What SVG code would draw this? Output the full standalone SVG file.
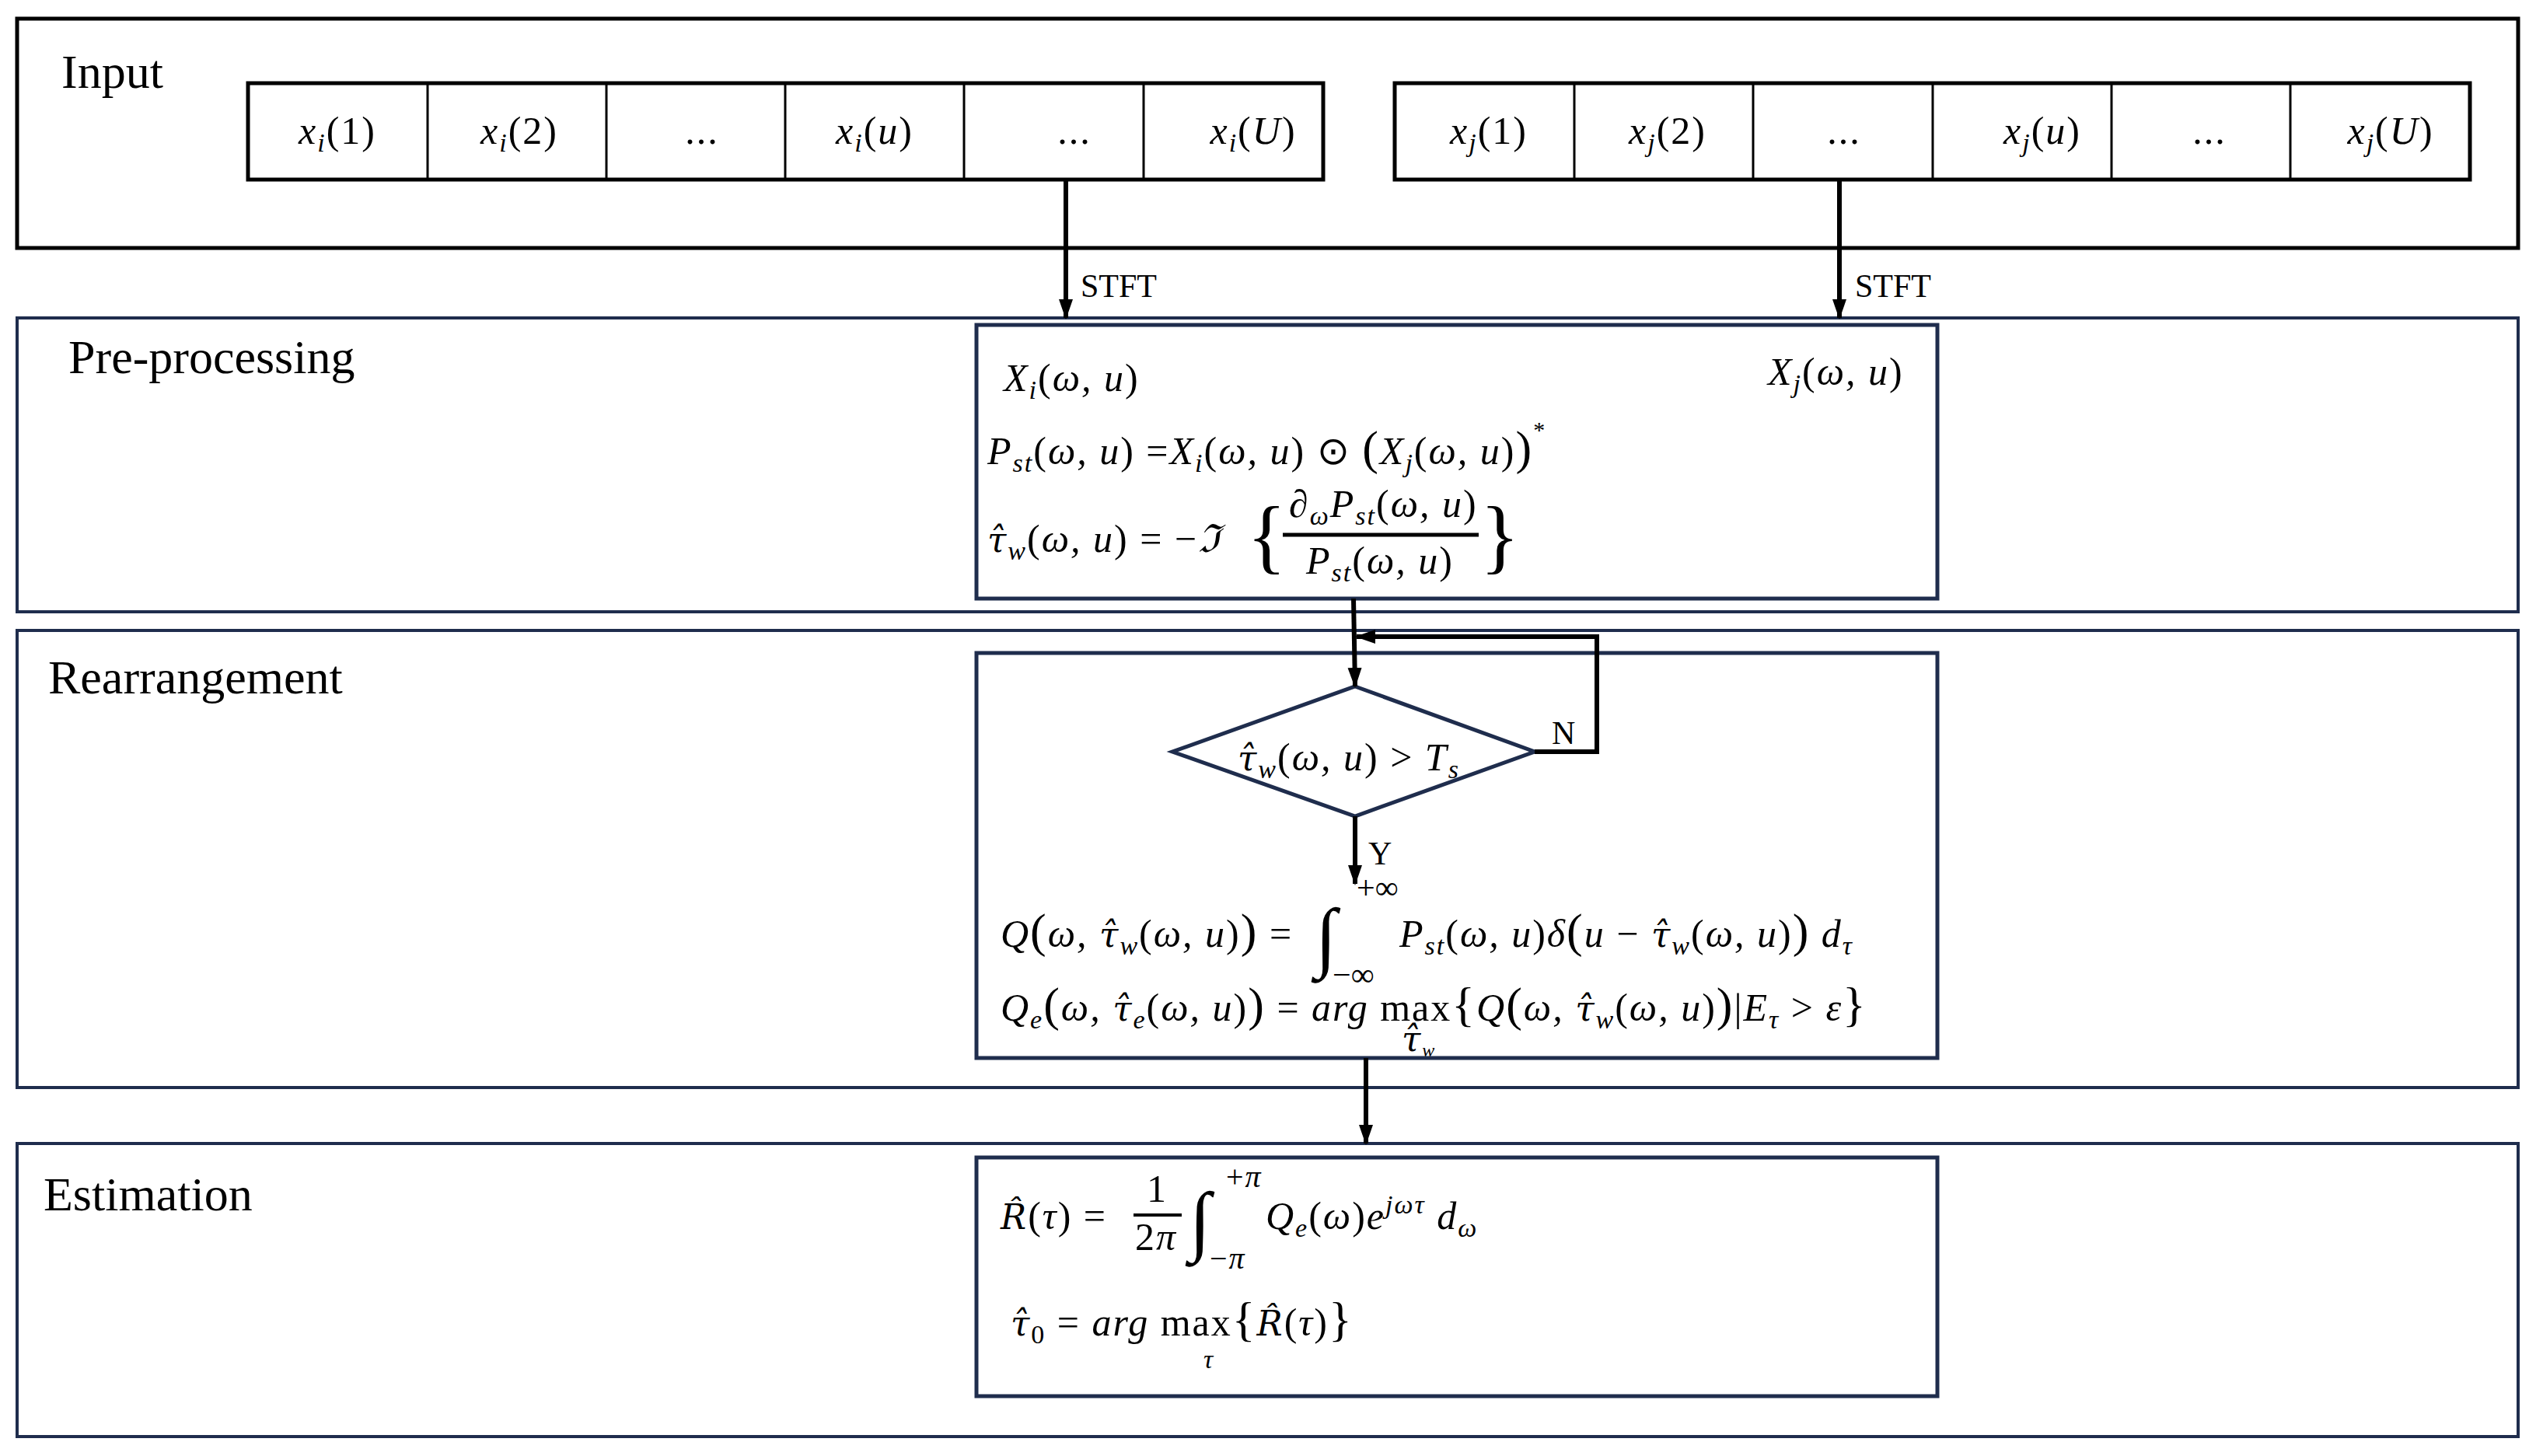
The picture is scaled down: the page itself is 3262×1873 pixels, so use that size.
<svg xmlns="http://www.w3.org/2000/svg" width="3262" height="1873" viewBox="0 0 3262 1873">
<style>
.stage{fill:none;stroke:#000;stroke-width:5}
.stage2{fill:none;stroke:#1f2d4d;stroke-width:4}
.inner{fill:#fff;stroke:#1f2d4d;stroke-width:5}
.cellrow{fill:#fff;stroke:#000;stroke-width:5}
.div{stroke:#000;stroke-width:3}
.lbl{font-family:"Liberation Serif",serif;font-size:62px;fill:#000}
.m{font-family:"Liberation Serif",serif;font-style:italic;font-size:50px;letter-spacing:2px;fill:#000}
.r{font-style:normal}
.h{font-family:"DejaVu Serif",serif;font-size:44px}
.sm{font-family:"Liberation Serif",serif;font-size:42px;fill:#000}
.conn{stroke:#000;stroke-width:6;fill:none}
</style>
<defs>
<marker id="a" markerWidth="26" markerHeight="26" refX="24" refY="13" orient="auto" markerUnits="userSpaceOnUse"><path d="M0,4 L26,13 L0,22 z" fill="#000"/></marker>
</defs>

<g id="input">
<rect class="stage" x="22" y="24" width="3217" height="295"/>
<text class="lbl" x="79" y="113">Input</text>
<rect class="cellrow" x="319" y="107" width="1383" height="124"/>
<line class="div" x1="550" y1="107" x2="550" y2="231"/><line class="div" x1="780" y1="107" x2="780" y2="231"/><line class="div" x1="1010" y1="107" x2="1010" y2="231"/><line class="div" x1="1240" y1="107" x2="1240" y2="231"/><line class="div" x1="1471" y1="107" x2="1471" y2="231"/>
<text class="m" text-anchor="middle" y="185"><tspan x="434">x<tspan font-size="34" dy="10">i</tspan><tspan class="r" dy="-10">(1)</tspan></tspan></text>
<text class="m" text-anchor="middle" y="185"><tspan x="668">x<tspan font-size="34" dy="10">i</tspan><tspan class="r" dy="-10">(2)</tspan></tspan></text>
<text class="m r" text-anchor="middle" x="903" y="185">...</text>
<text class="m" text-anchor="middle" y="185"><tspan x="1125">x<tspan font-size="34" dy="10">i</tspan><tspan dy="-10"><tspan class="r">(</tspan>u<tspan class="r">)</tspan></tspan></tspan></text>
<text class="m r" text-anchor="middle" x="1382" y="185">...</text>
<text class="m" text-anchor="middle" y="185"><tspan x="1612">x<tspan font-size="34" dy="10">i</tspan><tspan dy="-10"><tspan class="r">(</tspan>U<tspan class="r">)</tspan></tspan></tspan></text>
<rect class="cellrow" x="1794" y="107" width="1383" height="124"/>
<line class="div" x1="2025" y1="107" x2="2025" y2="231"/><line class="div" x1="2255" y1="107" x2="2255" y2="231"/><line class="div" x1="2486" y1="107" x2="2486" y2="231"/><line class="div" x1="2716" y1="107" x2="2716" y2="231"/><line class="div" x1="2946" y1="107" x2="2946" y2="231"/>
<text class="m" text-anchor="middle" y="185"><tspan x="1915">x<tspan font-size="34" dy="10">j</tspan><tspan class="r" dy="-10">(1)</tspan></tspan></text>
<text class="m" text-anchor="middle" y="185"><tspan x="2145">x<tspan font-size="34" dy="10">j</tspan><tspan class="r" dy="-10">(2)</tspan></tspan></text>
<text class="m r" text-anchor="middle" x="2372" y="185">...</text>
<text class="m" text-anchor="middle" y="185"><tspan x="2627">x<tspan font-size="34" dy="10">j</tspan><tspan dy="-10"><tspan class="r">(</tspan>u<tspan class="r">)</tspan></tspan></tspan></text>
<text class="m r" text-anchor="middle" x="2842" y="185">...</text>
<text class="m" text-anchor="middle" y="185"><tspan x="3075">x<tspan font-size="34" dy="10">j</tspan><tspan dy="-10"><tspan class="r">(</tspan>U<tspan class="r">)</tspan></tspan></tspan></text>
</g>

<g id="preprocessing">
<rect class="stage2" x="22" y="409" width="3217" height="378"/>
<text class="lbl" x="88" y="480">Pre-processing</text>
<rect class="inner" x="1256" y="418" width="1236" height="352"/>
<text class="m" x="1291" y="503">X<tspan font-size="34" dy="10">i</tspan><tspan dy="-10"><tspan class="r">(</tspan>ω, u<tspan class="r">)</tspan></tspan></text>
<text class="m" x="2274" y="495">X<tspan font-size="34" dy="10">j</tspan><tspan dy="-10"><tspan class="r">(</tspan>ω, u<tspan class="r">)</tspan></tspan></text>
<text class="m" x="1270" y="597">P<tspan font-size="34" dy="10">st</tspan><tspan dy="-10"><tspan class="r">(</tspan>ω, u<tspan class="r">) =</tspan>X</tspan><tspan font-size="34" dy="10">i</tspan><tspan dy="-10"><tspan class="r">(</tspan>ω, u<tspan class="r">) ⊙ </tspan><tspan class="r" font-size="62">(</tspan>X</tspan><tspan font-size="34" dy="10">j</tspan><tspan dy="-10"><tspan class="r">(</tspan>ω, u<tspan class="r">)</tspan><tspan class="r" font-size="62">)</tspan></tspan><tspan class="r" font-size="30" dy="-34">*</tspan></text>
<text class="m" x="1270" y="710"><tspan class="h">τ̂</tspan><tspan font-size="34" dy="10">w</tspan><tspan dy="-10"><tspan class="r">(</tspan>ω, u<tspan class="r">) = −</tspan>ℑ</tspan></text>
<text class="m r" x="1604" y="725" style="font-size:105px">{</text>
<text class="m" x="1658" y="665">∂<tspan font-size="34" dy="10">ω</tspan><tspan dy="-10">P</tspan><tspan font-size="34" dy="10">st</tspan><tspan dy="-10"><tspan class="r">(</tspan>ω, u<tspan class="r">)</tspan></tspan></text>
<line x1="1650" y1="688" x2="1902" y2="688" stroke="#000" stroke-width="5"/>
<text class="m" x="1680" y="738">P<tspan font-size="34" dy="10">st</tspan><tspan dy="-10"><tspan class="r">(</tspan>ω, u<tspan class="r">)</tspan></tspan></text>
<text class="m r" x="1904" y="725" style="font-size:105px">}</text>
</g>

<g id="rearrangement">
<rect class="stage2" x="22" y="811" width="3217" height="588"/>
<text class="lbl" x="62" y="892">Rearrangement</text>
<rect class="inner" x="1256" y="840" width="1236" height="521"/>
</g>

<g id="decision">
<polygon points="1743,883 1974,967 1743,1050 1508,967" fill="#fff" stroke="#1f2d4d" stroke-width="5"/>
<text class="m" x="1592" y="991"><tspan class="h">τ̂</tspan><tspan font-size="34" dy="10">w</tspan><tspan dy="-10"><tspan class="r">(</tspan>ω, u<tspan class="r">) &gt; </tspan>T</tspan><tspan font-size="34" dy="10">s</tspan></text>
</g>

<g id="rearr-formulas">
<text class="m" x="1287" y="1218">Q<tspan class="r" font-size="62">(</tspan>ω, <tspan class="h">τ̂</tspan><tspan font-size="34" dy="10">w</tspan><tspan dy="-10"><tspan class="r">(</tspan>ω, u<tspan class="r">)</tspan><tspan class="r" font-size="62">)</tspan><tspan class="r"> = </tspan></tspan></text>
<text class="m r" x="1692" y="1238" style="font-size:100px">∫</text>
<text class="sm" x="1745" y="1156">+∞</text>
<text class="sm" x="1714" y="1268">−∞</text>
<text class="m" x="1800" y="1218">P<tspan font-size="34" dy="10">st</tspan><tspan dy="-10"><tspan class="r">(</tspan>ω, u<tspan class="r">)</tspan>δ<tspan class="r" font-size="62">(</tspan>u <tspan class="r">−</tspan> <tspan class="h">τ̂</tspan></tspan><tspan font-size="34" dy="10">w</tspan><tspan dy="-10"><tspan class="r">(</tspan>ω, u<tspan class="r">)</tspan><tspan class="r" font-size="62">)</tspan> d</tspan><tspan font-size="34" dy="10">τ</tspan></text>
<text class="m" x="1287" y="1313">Q<tspan font-size="34" dy="10">e</tspan><tspan dy="-10"><tspan class="r" font-size="62">(</tspan>ω, <tspan class="h">τ̂</tspan></tspan><tspan font-size="34" dy="10">e</tspan><tspan dy="-10"><tspan class="r">(</tspan>ω, u<tspan class="r">)</tspan><tspan class="r" font-size="62">)</tspan><tspan class="r"> = </tspan>arg <tspan class="r">max</tspan><tspan class="r" font-size="62">{</tspan>Q<tspan class="r" font-size="62">(</tspan>ω, <tspan class="h">τ̂</tspan></tspan><tspan font-size="34" dy="10">w</tspan><tspan dy="-10"><tspan class="r">(</tspan>ω, u<tspan class="r">)</tspan><tspan class="r" font-size="62">)</tspan><tspan class="r">|</tspan>E</tspan><tspan font-size="34" dy="10">τ</tspan><tspan dy="-10"><tspan class="r"> &gt; </tspan>ε<tspan class="r" font-size="62">}</tspan></tspan></text>
<text class="m" x="1803" y="1352" style="font-size:32px"><tspan class="h" font-size="30">τ̂</tspan><tspan font-size="24" dy="7">w</tspan></text>
</g>

<g id="estimation">
<rect class="stage2" x="22" y="1471" width="3217" height="377"/>
<text class="lbl" x="56" y="1557">Estimation</text>
<rect class="inner" x="1256" y="1489" width="1236" height="307"/>
<text class="m" x="1287" y="1581"><tspan class="h">R̂</tspan><tspan class="r">(</tspan>τ<tspan class="r">) =</tspan></text>
<text class="m r" x="1475" y="1546">1</text>
<line x1="1458" y1="1563" x2="1520" y2="1563" stroke="#000" stroke-width="4"/>
<text class="m" x="1460" y="1608"><tspan class="r">2</tspan>π</text>
<text class="m r" x="1530" y="1603" style="font-size:100px">∫</text>
<text class="m" x="1577" y="1527" style="font-size:40px"><tspan class="r">+</tspan>π</text>
<text class="m" x="1556" y="1632" style="font-size:40px"><tspan class="r">−</tspan>π</text>
<text class="m" x="1628" y="1581">Q<tspan font-size="34" dy="10">e</tspan><tspan dy="-10"><tspan class="r">(</tspan>ω<tspan class="r">)</tspan>e</tspan><tspan font-size="34" dy="-20">jωτ</tspan><tspan dy="20"> d</tspan><tspan font-size="34" dy="10">ω</tspan></text>
<text class="m" x="1300" y="1718"><tspan class="h">τ̂</tspan><tspan class="r" font-size="34" dy="10">0</tspan><tspan dy="-10"><tspan class="r"> = </tspan>arg <tspan class="r">max</tspan><tspan class="r" font-size="62">{</tspan><tspan class="h">R̂</tspan><tspan class="r">(</tspan>τ<tspan class="r">)</tspan><tspan class="r" font-size="62">}</tspan></tspan></text>
<text class="m" x="1548" y="1760" style="font-size:34px">τ</text>
</g>

<g id="connectors">
<line class="conn" x1="1371" y1="231" x2="1371" y2="409" marker-end="url(#a)"/>
<text class="sm" x="1390" y="382">STFT</text>
<line class="conn" x1="2366" y1="231" x2="2366" y2="409" marker-end="url(#a)"/>
<text class="sm" x="2386" y="382">STFT</text>
<line class="conn" x1="1741" y1="770" x2="1743" y2="883" marker-end="url(#a)"/>
<polyline class="conn" points="1974,967 2054,967 2054,819 1745,819" marker-end="url(#a)"/>
<text class="sm" x="1996" y="957">N</text>
<line class="conn" x1="1743" y1="1050" x2="1743" y2="1137" marker-end="url(#a)"/>
<text class="sm" x="1760" y="1112">Y</text>
<line class="conn" x1="1757" y1="1361" x2="1757" y2="1471" marker-end="url(#a)"/>
</g>
</svg>
